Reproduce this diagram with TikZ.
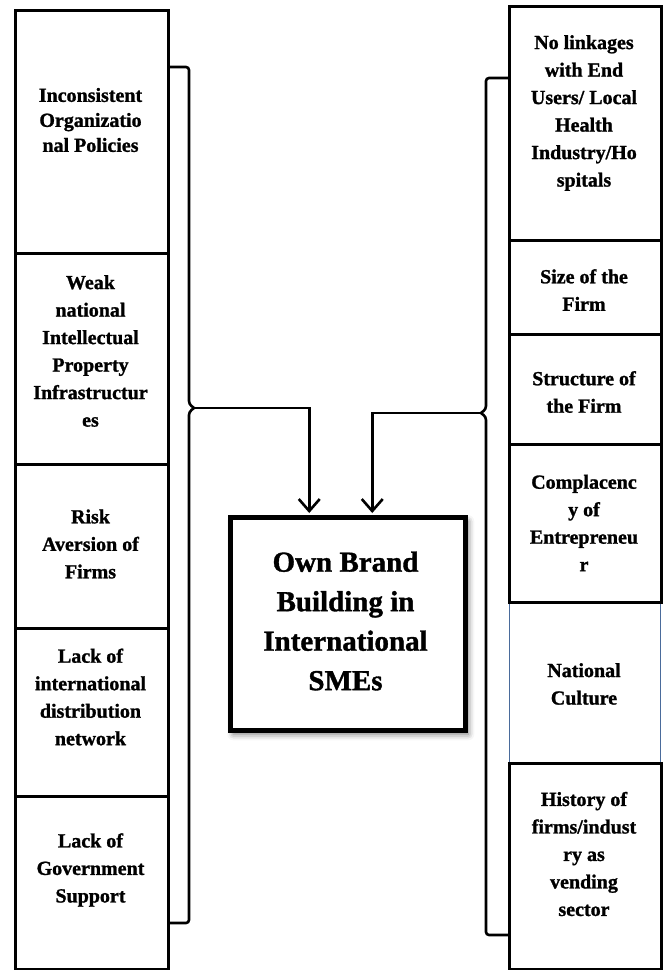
\documentclass[tikz,border=0pt]{standalone}
\usepackage{fontspec}
\setmainfont[BoldFeatures={FakeBold=1.2}]{Liberation Serif}
\usetikzlibrary{arrows.meta,shadows.blur}
\definecolor{ncblue}{HTML}{4A6B9B}
\begin{document}
\begin{tikzpicture}[x=1pt,y=-1pt,
  fbox/.style={draw, line width=3pt, anchor=north west, inner sep=0pt, fill=white},
  ncbox/.style={draw=ncblue, line width=1.8pt, anchor=north west, inner sep=0pt, fill=white},
  lbl/.style={font=\bfseries\fontsize{20}{27.5}\selectfont, align=center, inner sep=0pt},
  clbl/.style={font=\bfseries\fontsize{29}{39.5}\selectfont, align=center, inner sep=0pt},
  brk/.style={line width=2.6pt, rounded corners=3pt},
  arr/.style={line width=2.6pt, -{Straight Barb[length=12pt,width=21pt,line width=2.6pt]}}]
\useasboundingbox (0,0) rectangle (662,970);

% left column
\node[fbox, minimum width=153pt, minimum height=243pt] (L1) at (14,9) {};
\node[fbox, minimum width=153pt, minimum height=211pt] (L2) at (14,252) {};
\node[fbox, minimum width=153pt, minimum height=164pt] (L3) at (14,463) {};
\node[fbox, minimum width=153pt, minimum height=168pt] (L4) at (14,627) {};
\node[fbox, minimum width=153pt, minimum height=173pt] (L5) at (14,795) {};

\node[lbl, font=\bfseries\fontsize{20}{25}\selectfont] (tL1) at (90.5,120) {Inconsistent\\Organizatio\\nal Policies};
\node[lbl] (tL2) at (90.5,351) {Weak\\national\\Intellectual\\Property\\Infrastructur\\es};
\node[lbl] (tL3) at (90.5,544) {Risk\\Aversion of\\Firms};
\node[lbl] (tL4) at (90.5,697) {Lack of\\international\\distribution\\network};
\node[lbl] (tL5) at (90.5,870) {Lack of\\Government\\Support};

% right column
\node[ncbox, minimum width=151pt, minimum height=161pt] (R5) at (508.5,601) {};
\node[fbox, minimum width=152pt, minimum height=234pt] (R1) at (508,5) {};
\node[fbox, minimum width=152pt, minimum height=94pt] (R2) at (508,239) {};
\node[fbox, minimum width=152pt, minimum height=110pt] (R3) at (508,333) {};
\node[fbox, minimum width=152pt, minimum height=158pt] (R4) at (508,443) {};
\node[fbox, minimum width=152pt, minimum height=206pt] (R6) at (508,762) {};

\node[lbl] (tR1) at (584,113) {No linkages\\with End\\Users/ Local\\Health\\Industry/Ho\\spitals};
\node[lbl] (tR2) at (584,290) {Size of the\\Firm};
\node[lbl] (tR3) at (584,392) {Structure of\\the Firm};
\node[lbl] (tR4) at (584,523) {Complacenc\\y of\\Entrepreneu\\r};
\node[lbl] (tR5) at (584,684) {National\\Culture};
\node[lbl] (tR6) at (584,854) {History of\\firms/indust\\ry as\\vending\\sector};

% centre box
\node[draw, line width=4.5pt, anchor=north west, inner sep=0pt, fill=white,
      minimum width=235pt, minimum height=213pt,
      blur shadow={shadow xshift=3pt, shadow yshift=-4pt, shadow blur radius=6pt, shadow opacity=55}] (C) at (228,515) {};
\node[clbl] (Ct) at (345.5,621) {Own Brand\\Building in\\International\\SMEs};

% brackets
\coordinate (lt) at (194,408);
\coordinate (rt) at (481,413);
\draw[brk] (167,67) -- (189,67) -- (189,404) -- (lt);
\draw[brk] (lt) -- (189,412) -- (189,923) -- (167,923);
\draw[brk] (508,78) -- (486,78) -- (486,409) -- (rt);
\draw[brk] (rt) -- (486,417) -- (486,935) -- (508,935);

% arrows
\draw[arr] (lt) -| ([xshift=-38.5pt,yshift=2pt]C.north);
\draw[arr] (rt) -| ([xshift=24.5pt,yshift=2pt]C.north);
\end{tikzpicture}
\end{document}
